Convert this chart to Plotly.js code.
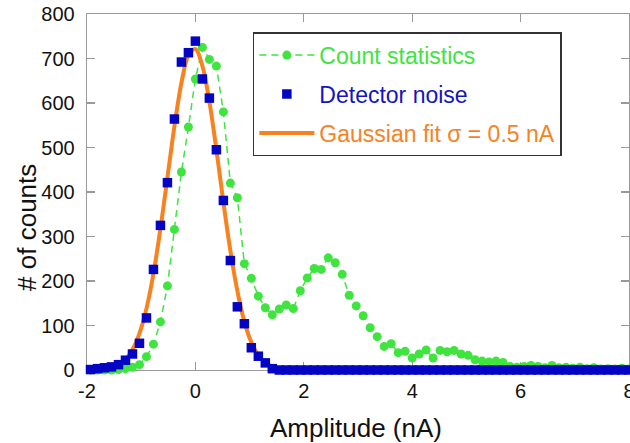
<!DOCTYPE html>
<html><head><meta charset="utf-8">
<script src="https://cdn.plot.ly/plotly-3.0.1.min.js"></script>
<style>html,body{margin:0;padding:0;background:#fff;}#chart{width:630px;height:443px;}</style>
</head><body><div id="chart"></div><script>
// bin centres (nA)
const binX = [-1.935,-1.806,-1.677,-1.548,-1.419,-1.29,-1.161,-1.032,-0.903,-0.774,-0.645,-0.516,-0.387,-0.258,-0.129,0,0.129,0.258,0.387,0.516,0.645,0.774,0.903,1.032,1.161,1.29,1.419,1.548,1.677,1.806,1.935,2.064,2.193,2.322,2.451,2.58,2.709,2.838,2.967,3.096,3.225,3.354,3.483,3.612,3.741,3.87,3.999,4.128,4.257,4.386,4.515,4.644,4.773,4.902,5.031,5.16,5.289,5.418,5.547,5.676,5.805,5.934,6.063,6.192,6.321,6.45,6.579,6.708,6.837,6.966,7.095,7.224,7.353,7.482,7.611,7.74,7.869,7.998];
const countStats = [0,0,0,0,1,3,6,12,30,58,108,189,316,445,546,654,725,698,683,580,420,387,239,206,166,140,124,137,146,138,178,207,228,226,252,241,215,168,144,122,95,75,53,59,39,42,27,36,45,27,44,41,44,36,33,23,20,18,20,17,8,6,8,10,8,5,10,5,6,4,6,3,5,2,3,2,4,2];
const detectorNoise = [1,3,5,7,12,22,36,60,117,226,325,421,564,692,713,739,654,611,495,381,246,142,104,50,31,16,3,0,0,0,0,0,0,0,0,0,0,0,0,0,0,0,0,0,0,0,0,0,0,0,0,0,0,0,0,0,0,0,0,0,0,0,0,0,0,0,0,0,0,0,0,0,0,0,0,0,0,0];
const fitX = [-2,-1.875,-1.75,-1.625,-1.5,-1.375,-1.25,-1.125,-1,-0.875,-0.75,-0.625,-0.5,-0.375,-0.25,-0.125,0,0.125,0.25,0.375,0.5,0.625,0.75,0.875,1,1.125,1.25,1.375,1.5,1.625,1.75,1.875,2];
const fitY = [0.2,0.5,1.2,2.9,6.6,14,29,54,94,153,234,335,447,558,650,708,721,685,609,506,392,284,193,122,72,40,21,10,4.5,1.9,0.7,0.3,0.1];
const xTicks = [-2,0,2,4,6,8];
const yTicks = [0,100,200,300,400,500,600,700,800];

const GREEN = '#3fe43f', BLUE = '#0404c4', ORANGE = '#f7821f';
const FONT = 'Arial, "Liberation Sans", sans-serif';

const traces = [
  {x: binX, y: countStats, type: 'scatter', mode: 'lines+markers',
   name: '<span style="color:#3fe43f">Count statistics</span>',
   line: {color: GREEN, width: 1.5, dash: '7px,5px'},
   marker: {color: GREEN, size: 9, symbol: 'circle'},
   legendrank: 1, legendgroup: 'a', cliponaxis: false},
  {x: fitX, y: fitY, type: 'scatter', mode: 'lines',
   name: '<span style="color:#f7821f">Gaussian fit σ = 0.5 nA</span>',
   line: {color: ORANGE, width: 4, shape: 'spline'},
   legendrank: 3, legendgroup: 'c'},
  {x: binX, y: detectorNoise, type: 'scatter', mode: 'markers',
   name: '<span style="color:#1414c0">Detector noise</span>',
   marker: {color: BLUE, size: 9.5, symbol: 'square'},
   legendrank: 2, legendgroup: 'b', cliponaxis: false}
];

const axisCommon = {
  showgrid: false, zeroline: false, showline: true, linecolor: '#9a9a9a', linewidth: 1.3,
  mirror: 'ticks', ticks: 'inside', ticklen: 8, tickwidth: 1.2, tickcolor: '#9a9a9a',
  tickfont: {family: FONT, size: 20, color: '#111'}, automargin: false,
  ticklabeloverflow: 'allow', layer: 'below traces'
};

const layout = {
  width: 630, height: 443,
  margin: {l: 87, r: 1, t: 13.5, b: 72.5},
  paper_bgcolor: '#fff', plot_bgcolor: '#fff',
  showlegend: true,
  font: {family: FONT},
  xaxis: Object.assign({}, axisCommon, {
    range: [-2, 8], tickmode: 'array', tickvals: xTicks, ticktext: xTicks.map(String),
    ticklabelstandoff: 3
  }),
  yaxis: Object.assign({}, axisCommon, {
    range: [0, 800], tickmode: 'array', tickvals: yTicks, ticktext: yTicks.map(String),
    ticklabelstandoff: 7
  }),
  annotations: [
    {text: 'Amplitude (nA)', xref: 'paper', yref: 'paper', x: 0.497, y: -0.163,
     xanchor: 'center', yanchor: 'middle', showarrow: false,
     font: {family: FONT, size: 26, color: '#111'}},
    {text: '# of counts', xref: 'paper', yref: 'paper', x: -0.112, y: 0.4,
     xanchor: 'center', yanchor: 'middle', showarrow: false, textangle: -90,
     font: {family: FONT, size: 26, color: '#111'}}
  ],
  legend: {
    x: 0.306, y: 0.949, xanchor: 'left', yanchor: 'top',
    bgcolor: '#fff', bordercolor: '#333', borderwidth: 1.5,
    font: {family: FONT, size: 23},
    itemwidth: 55, traceorder: 'grouped', tracegroupgap: 6
  }
};

Plotly.newPlot('chart', traces, layout, {displayModeBar: false, staticPlot: true});
</script></body></html>
